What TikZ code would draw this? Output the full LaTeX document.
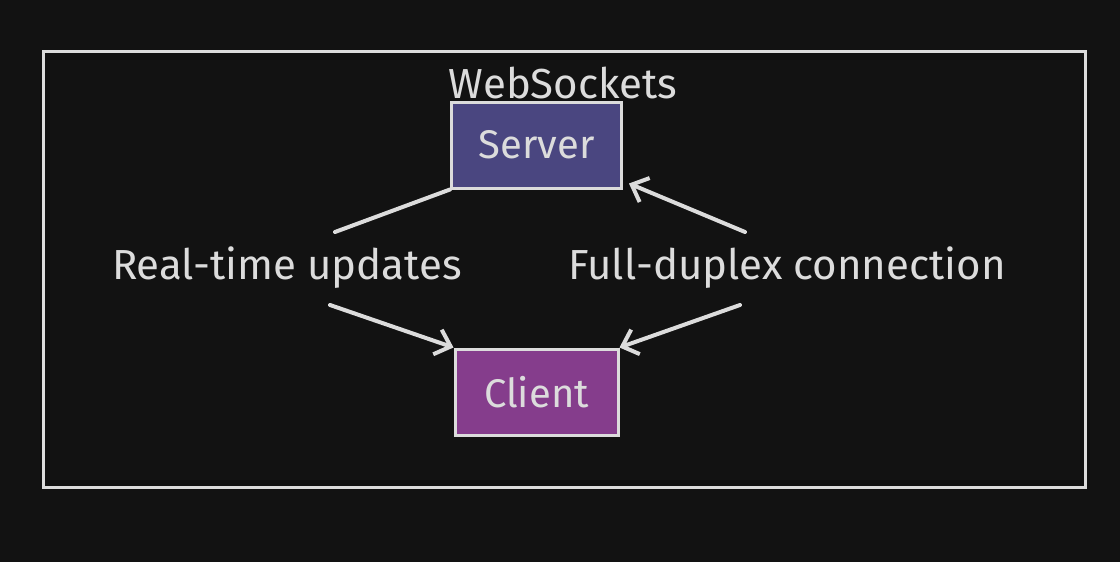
\documentclass[tikz,border=0pt]{standalone}
\usepackage{fontspec}
\setmainfont{Fira Sans}
\usetikzlibrary{arrows.meta}
\definecolor{bg}{HTML}{121212}
\definecolor{ink}{HTML}{DCDCDC}
\definecolor{srv}{HTML}{4A4680}
\definecolor{cli}{HTML}{853D8C}
\begin{document}
\begin{tikzpicture}[x=1pt,y=-1pt,
  box/.style={draw=ink,line width=3pt,minimum width=170pt,minimum height=86pt,text=ink,font=\fontsize{40}{46}\selectfont},
  lbl/.style={text=ink,font=\fontsize{42}{48}\selectfont,inner sep=0pt},
  conn/.style={draw=ink,line width=4pt,line cap=round},
  arr/.style={conn,-{Straight Barb[length=14pt,width=26pt,line width=4pt]}}]
\fill[bg] (0,0) rectangle (1120,562);
\useasboundingbox (0,0) rectangle (1120,562);
\node[draw=ink,line width=3pt,minimum width=1042pt,minimum height=436pt] (frame) at (564,269) {};
\node[lbl] (title) at (563,83) {WebSockets};
\node[box,fill=srv] (server) at (536.5,145) {Server};
\node[box,fill=cli,minimum width=163pt] (client) at (536.5,392) {Client};
\node[lbl] (rt) at (287,268) {Real-time updates};
\node[lbl] (fd) at (787,268) {Full-duplex connection};
\coordinate (a1) at (335,232);
\coordinate (a2) at (330,305);
\coordinate (b1) at (745,232);
\coordinate (b2) at (740,305);
\draw[conn] (server.south west) -- (a1);
\draw[arr] (a2) -- (client.north west);
\draw[arr] (b1) -- ([xshift=6pt,yshift=6pt]server.south east);
\draw[arr] (b2) -- (client.north east);
\end{tikzpicture}
\end{document}
